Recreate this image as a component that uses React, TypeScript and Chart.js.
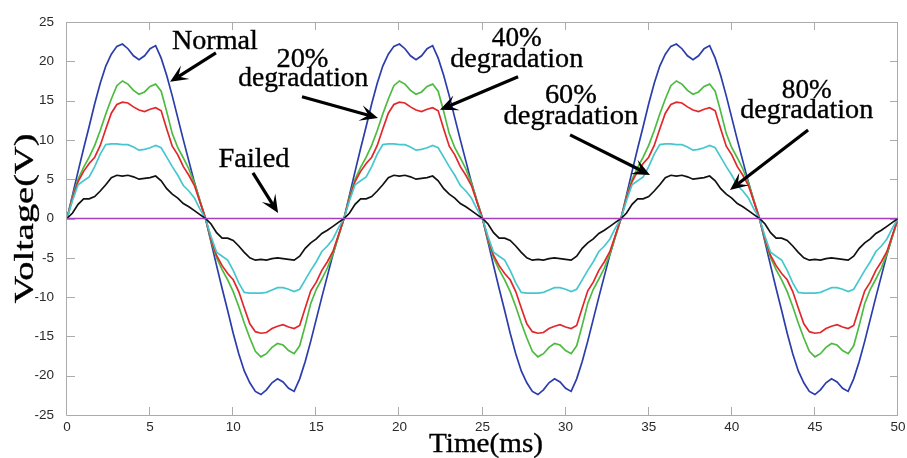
import React, { useEffect, useRef } from "react";
import { Chart, registerables } from "chart.js";

Chart.register(...registerables);

// ---- sampling grid (ms) : one sample every 1/3 ms, 0 … 50 ms ----
const SAMPLE_TIMES_MS: number[] = Array.from({ length: 151 }, (_, i) => i / 3);

const X_TICKS = [0, 5, 10, 15, 20, 25, 30, 35, 40, 45, 50];
const Y_TICKS = [-25, -20, -15, -10, -5, 0, 5, 10, 15, 20, 25];

// ---- series values (V) ----
const NORMAL_V = [
  0, 3.0, 6.0, 8.9, 11.7, 14.6, 17.2, 19.4, 20.9, 21.9, 22.2, 21.6, 20.7, 20.2, 20.7, 21.6, 22.0, 20.4, 18.2, 15.6, 12.8, 10.0, 7.3, 4.6, 2.2,
  0, -3.0, -6.0, -8.9, -11.7, -14.6, -17.2, -19.4, -20.9, -22.0, -22.4, -21.8, -20.9, -20.4, -20.8, -21.6, -22.0, -20.4, -18.2, -15.6, -12.8, -10.0, -7.3, -4.6, -2.2,
  0, 3.0, 6.0, 8.9, 11.7, 14.6, 17.2, 19.4, 20.9, 21.9, 22.2, 21.6, 20.7, 20.2, 20.7, 21.6, 22.0, 20.4, 18.2, 15.6, 12.8, 10.0, 7.3, 4.6, 2.2,
  0, -3.0, -6.0, -8.9, -11.7, -14.6, -17.2, -19.4, -20.9, -22.0, -22.4, -21.8, -20.9, -20.4, -20.8, -21.6, -22.0, -20.4, -18.2, -15.6, -12.8, -10.0, -7.3, -4.6, -2.2,
  0, 3.0, 6.0, 8.9, 11.7, 14.6, 17.2, 19.4, 20.9, 21.9, 22.2, 21.6, 20.7, 20.2, 20.7, 21.6, 22.0, 20.4, 18.2, 15.6, 12.8, 10.0, 7.3, 4.6, 2.2,
  0, -3.0, -6.0, -8.9, -11.7, -14.6, -17.2, -19.4, -20.9, -22.0, -22.4, -21.8, -20.9, -20.4, -20.8, -21.6, -22.0, -20.4, -18.2, -15.6, -12.8, -10.0, -7.3, -4.6, -2.2,
  0,
];

const DEG20_V = [
  0, 2.8, 5.0, 6.5, 7.8, 9.3, 11.2, 13.3, 15.2, 16.9, 17.5, 17.1, 16.3, 15.8, 16.1, 16.8, 17.1, 16.2, 13.6, 10.8, 9.0, 7.7, 6.3, 4.5, 2.3,
  0, -2.8, -5.0, -6.5, -7.8, -9.3, -11.2, -13.3, -15.2, -16.9, -17.6, -17.2, -16.4, -15.9, -16.1, -16.8, -17.2, -16.2, -13.6, -10.8, -9.0, -7.7, -6.3, -4.5, -2.3,
  0, 2.8, 5.0, 6.5, 7.8, 9.3, 11.2, 13.3, 15.2, 16.9, 17.5, 17.1, 16.3, 15.8, 16.1, 16.8, 17.1, 16.2, 13.6, 10.8, 9.0, 7.7, 6.3, 4.5, 2.3,
  0, -2.8, -5.0, -6.5, -7.8, -9.3, -11.2, -13.3, -15.2, -16.9, -17.6, -17.2, -16.4, -15.9, -16.1, -16.8, -17.2, -16.2, -13.6, -10.8, -9.0, -7.7, -6.3, -4.5, -2.3,
  0, 2.8, 5.0, 6.5, 7.8, 9.3, 11.2, 13.3, 15.2, 16.9, 17.5, 17.1, 16.3, 15.8, 16.1, 16.8, 17.1, 16.2, 13.6, 10.8, 9.0, 7.7, 6.3, 4.5, 2.3,
  0, -2.8, -5.0, -6.5, -7.8, -9.3, -11.2, -13.3, -15.2, -16.9, -17.6, -17.2, -16.4, -15.9, -16.1, -16.8, -17.2, -16.2, -13.6, -10.8, -9.0, -7.7, -6.3, -4.5, -2.3,
  0,
];

const DEG40_V = [
  0, 2.6, 4.7, 6.0, 7.0, 7.8, 9.3, 11.4, 13.4, 14.5, 14.8, 14.7, 14.2, 13.8, 13.6, 13.9, 14.1, 13.7, 11.4, 9.2, 8.1, 6.6, 5.5, 4.2, 2.1,
  0, -2.6, -4.7, -6.0, -7.0, -7.8, -9.3, -11.4, -13.4, -14.4, -14.6, -14.5, -14.0, -13.7, -13.5, -13.8, -14.0, -13.6, -11.4, -9.2, -8.1, -6.6, -5.5, -4.2, -2.1,
  0, 2.6, 4.7, 6.0, 7.0, 7.8, 9.3, 11.4, 13.4, 14.5, 14.8, 14.7, 14.2, 13.8, 13.6, 13.9, 14.1, 13.7, 11.4, 9.2, 8.1, 6.6, 5.5, 4.2, 2.1,
  0, -2.6, -4.7, -6.0, -7.0, -7.8, -9.3, -11.4, -13.4, -14.4, -14.6, -14.5, -14.0, -13.7, -13.5, -13.8, -14.0, -13.6, -11.4, -9.2, -8.1, -6.6, -5.5, -4.2, -2.1,
  0, 2.6, 4.7, 6.0, 7.0, 7.8, 9.3, 11.4, 13.4, 14.5, 14.8, 14.7, 14.2, 13.8, 13.6, 13.9, 14.1, 13.7, 11.4, 9.2, 8.1, 6.6, 5.5, 4.2, 2.1,
  0, -2.6, -4.7, -6.0, -7.0, -7.8, -9.3, -11.4, -13.4, -14.4, -14.6, -14.5, -14.0, -13.7, -13.5, -13.8, -14.0, -13.6, -11.4, -9.2, -8.1, -6.6, -5.5, -4.2, -2.1,
  0,
];

const DEG60_V = [
  0, 2.3, 4.3, 4.8, 5.3, 6.6, 8.2, 9.4, 9.5, 9.5, 9.4, 9.4, 9.1, 8.7, 8.8, 9.0, 9.3, 9.0, 7.8, 6.6, 5.5, 4.2, 3.5, 2.6, 1.2,
  0, -2.3, -4.3, -4.8, -5.3, -6.6, -8.2, -9.4, -9.5, -9.5, -9.5, -9.4, -9.1, -8.8, -8.8, -9.0, -9.3, -9.0, -7.8, -6.6, -5.5, -4.2, -3.5, -2.6, -1.2,
  0, 2.3, 4.3, 4.8, 5.3, 6.6, 8.2, 9.4, 9.5, 9.5, 9.4, 9.4, 9.1, 8.7, 8.8, 9.0, 9.3, 9.0, 7.8, 6.6, 5.5, 4.2, 3.5, 2.6, 1.2,
  0, -2.3, -4.3, -4.8, -5.3, -6.6, -8.2, -9.4, -9.5, -9.5, -9.5, -9.4, -9.1, -8.8, -8.8, -9.0, -9.3, -9.0, -7.8, -6.6, -5.5, -4.2, -3.5, -2.6, -1.2,
  0, 2.3, 4.3, 4.8, 5.3, 6.6, 8.2, 9.4, 9.5, 9.5, 9.4, 9.4, 9.1, 8.7, 8.8, 9.0, 9.3, 9.0, 7.8, 6.6, 5.5, 4.2, 3.5, 2.6, 1.2,
  0, -2.3, -4.3, -4.8, -5.3, -6.6, -8.2, -9.4, -9.5, -9.5, -9.5, -9.4, -9.1, -8.8, -8.8, -9.0, -9.3, -9.0, -7.8, -6.6, -5.5, -4.2, -3.5, -2.6, -1.2,
  0,
];

const DEG80_V = [
  0, 0.7, 1.8, 2.5, 2.5, 2.8, 3.5, 4.3, 5.2, 5.5, 5.4, 5.5, 5.3, 5.0, 5.1, 5.2, 5.4, 4.8, 3.8, 3.1, 2.6, 1.9, 1.5, 1.0, 0.5,
  0, -0.7, -1.8, -2.5, -2.5, -2.8, -3.5, -4.3, -5.0, -5.3, -5.2, -5.3, -5.1, -5.0, -5.1, -5.2, -5.3, -4.8, -3.8, -3.1, -2.6, -1.9, -1.5, -1.0, -0.5,
  0, 0.7, 1.8, 2.5, 2.5, 2.8, 3.5, 4.3, 5.2, 5.5, 5.4, 5.5, 5.3, 5.0, 5.1, 5.2, 5.4, 4.8, 3.8, 3.1, 2.6, 1.9, 1.5, 1.0, 0.5,
  0, -0.7, -1.8, -2.5, -2.5, -2.8, -3.5, -4.3, -5.0, -5.3, -5.2, -5.3, -5.1, -5.0, -5.1, -5.2, -5.3, -4.8, -3.8, -3.1, -2.6, -1.9, -1.5, -1.0, -0.5,
  0, 0.7, 1.8, 2.5, 2.5, 2.8, 3.5, 4.3, 5.2, 5.5, 5.4, 5.5, 5.3, 5.0, 5.1, 5.2, 5.4, 4.8, 3.8, 3.1, 2.6, 1.9, 1.5, 1.0, 0.5,
  0, -0.7, -1.8, -2.5, -2.5, -2.8, -3.5, -4.3, -5.0, -5.3, -5.2, -5.3, -5.1, -5.0, -5.1, -5.2, -5.3, -4.8, -3.8, -3.1, -2.6, -1.9, -1.5, -1.0, -0.5,
  0,
];

// Failed: flat at 0 V over the whole record
const FAILED_TIMES_MS = [0, 50];
const FAILED_V = [0, 0];

// ---- styling ----
const COLORS = {
  normal: "#2b3dab",
  deg20: "#4cbb40",
  deg40: "#e2272b",
  deg60: "#46c7cf",
  deg80: "#111111",
  failed: "#a63fbf",
};
const AXIS_COLOR = "#ababab";
const TICK_LABEL_COLOR = "#2a2a2a";
const SERIF = '"Liberation Serif", "Times New Roman", serif';
const SANS = '"Liberation Sans", Arial, sans-serif';

// ---- annotations (positions in data units: ms, V) ----
type TextLine = { text: string; t: number; v: number; width: number };
type Arrow = { t0: number; v0: number; t1: number; v1: number };
const ANNOTATION_TEXT: TextLine[] = [
  { text: "Normal", t: 8.9, v: 21.6, width: 86 },
  { text: "20%", t: 14.17, v: 19.3, width: 52 },
  { text: "degradation", t: 14.22, v: 16.8, width: 130 },
  { text: "40%", t: 27.06, v: 21.9, width: 50 },
  { text: "degradation", t: 27.06, v: 19.3, width: 133 },
  { text: "60%", t: 30.32, v: 14.7, width: 52 },
  { text: "degradation", t: 30.32, v: 12.0, width: 135 },
  { text: "80%", t: 44.51, v: 15.35, width: 50 },
  { text: "degradation", t: 44.51, v: 12.8, width: 133 },
  { text: "Failed", t: 11.25, v: 6.56, width: 71 },
];
const ANNOTATION_ARROWS: Arrow[] = [
  { t0: 8.96, v0: 21.08, t1: 6.2, v1: 17.39 },
  { t0: 14.14, v0: 15.48, t1: 18.71, v1: 12.8 },
  { t0: 27.14, v0: 18.03, t1: 22.44, v1: 13.82 },
  { t0: 30.27, v0: 10.64, t1: 35.08, v1: 5.54 },
  { t0: 44.59, v0: 11.27, t1: 39.89, v1: 3.63 },
  { t0: 11.19, v0: 5.8, t1: 12.7, v1: 0.7 },
];

function fittedText(
  ctx: CanvasRenderingContext2D,
  text: string,
  cx: number,
  baseline: number,
  width: number,
  size: number,
  rotate = false
) {
  ctx.save();
  ctx.font = `${size}px ${SERIF}`;
  const w = ctx.measureText(text).width || 1;
  ctx.translate(cx, baseline);
  if (rotate) ctx.rotate(-Math.PI / 2);
  ctx.scale(width / w, 1);
  ctx.textAlign = "center";
  ctx.textBaseline = "alphabetic";
  ctx.fillStyle = "#000";
  ctx.strokeStyle = "#000";
  ctx.lineWidth = 0.35;
  ctx.fillText(text, 0, 0);
  ctx.strokeText(text, 0, 0);
  ctx.restore();
}

function drawArrow(ctx: CanvasRenderingContext2D, x0: number, y0: number, x1: number, y1: number) {
  const dx = x1 - x0;
  const dy = y1 - y0;
  const len = Math.hypot(dx, dy) || 1;
  const ux = dx / len;
  const uy = dy / len;
  const px = -uy;
  const py = ux;
  const L = 18;
  const W = 8;
  const N = 0.55;
  ctx.save();
  ctx.strokeStyle = "#000";
  ctx.fillStyle = "#000";
  ctx.lineWidth = 3.2;
  ctx.lineCap = "butt";
  ctx.beginPath();
  ctx.moveTo(x0, y0);
  ctx.lineTo(x1 - ux * L * N, y1 - uy * L * N);
  ctx.stroke();
  ctx.beginPath();
  ctx.moveTo(x1, y1);
  ctx.lineTo(x1 - ux * L + px * W, y1 - uy * L + py * W);
  ctx.lineTo(x1 - ux * L * N, y1 - uy * L * N);
  ctx.lineTo(x1 - ux * L - px * W, y1 - uy * L - py * W);
  ctx.closePath();
  ctx.fill();
  ctx.restore();
}

const decorPlugin = {
  id: "decor",
  beforeDatasetsDraw(chart: any) {
    const { ctx, chartArea: a, scales } = chart;
    const xs = scales.x;
    const ys = scales.y;
    ctx.save();
    ctx.strokeStyle = AXIS_COLOR;
    ctx.lineWidth = 1;
    ctx.beginPath();
    ctx.rect(a.left - 0.5, a.top + 0.5, a.right - a.left, a.bottom - a.top);
    ctx.stroke();
    const TL = 8;
    ctx.beginPath();
    for (const v of X_TICKS) {
      const px = Math.round(xs.getPixelForValue(v)) - 0.5;
      ctx.moveTo(px, a.bottom);
      ctx.lineTo(px, a.bottom - TL);
      ctx.moveTo(px, a.top);
      ctx.lineTo(px, a.top + TL);
    }
    for (const v of Y_TICKS) {
      const py = Math.round(ys.getPixelForValue(v)) + 0.5;
      ctx.moveTo(a.left, py);
      ctx.lineTo(a.left + TL, py);
      ctx.moveTo(a.right, py);
      ctx.lineTo(a.right - TL, py);
    }
    ctx.stroke();
    ctx.restore();
  },
  afterDraw(chart: any) {
    const { ctx, chartArea: a, scales } = chart;
    const xs = scales.x;
    const ys = scales.y;
    ctx.save();
    // tick labels
    ctx.fillStyle = TICK_LABEL_COLOR;
    ctx.font = `13.5px ${SANS}`;
    ctx.textAlign = "right";
    ctx.textBaseline = "middle";
    for (const v of Y_TICKS) {
      ctx.fillText(String(v), 54, ys.getPixelForValue(v));
    }
    ctx.textAlign = "center";
    for (const v of X_TICKS) {
      ctx.fillText(String(v), xs.getPixelForValue(v), a.bottom + 12);
    }
    ctx.restore();
    // axis titles
    fittedText(ctx, "Time(ms)", 486, 452, 114, 27);
    fittedText(ctx, "Voltage(V)", 33, (a.top + a.bottom) / 2, 170, 27, true);
    // annotations
    for (const l of ANNOTATION_TEXT) {
      fittedText(ctx, l.text, xs.getPixelForValue(l.t), ys.getPixelForValue(l.v), l.width, 27);
    }
    for (const ar of ANNOTATION_ARROWS) {
      drawArrow(
        ctx,
        xs.getPixelForValue(ar.t0),
        ys.getPixelForValue(ar.v0),
        xs.getPixelForValue(ar.t1),
        ys.getPixelForValue(ar.v1)
      );
    }
  },
};

function pts(times: number[], values: number[]) {
  return values.map((v, i) => ({ x: times[i], y: v }));
}

export default function App() {
  const ref = useRef<HTMLCanvasElement | null>(null);
  useEffect(() => {
    if (!ref.current) return;
    const line = (label: string, data: any[], color: string) => ({
      label,
      data,
      borderColor: color,
      backgroundColor: color,
      borderWidth: 1.7,
      pointRadius: 0,
      tension: 0,
      fill: false,
    });
    const chart = new Chart(ref.current, {
      type: "line",
      data: {
        datasets: [
          line("Failed", pts(FAILED_TIMES_MS, FAILED_V), COLORS.failed),
          line("80% degradation", pts(SAMPLE_TIMES_MS, DEG80_V), COLORS.deg80),
          line("60% degradation", pts(SAMPLE_TIMES_MS, DEG60_V), COLORS.deg60),
          line("40% degradation", pts(SAMPLE_TIMES_MS, DEG40_V), COLORS.deg40),
          line("20% degradation", pts(SAMPLE_TIMES_MS, DEG20_V), COLORS.deg20),
          line("Normal", pts(SAMPLE_TIMES_MS, NORMAL_V), COLORS.normal),
        ],
      },
      options: {
        animation: false,
        responsive: false,
        events: [],
        layout: { padding: { left: 0, top: 22, right: 9, bottom: 0 } },
        plugins: { legend: { display: false }, tooltip: { enabled: false } },
        scales: {
          x: {
            type: "linear",
            min: 0,
            max: 50,
            grid: { display: false },
            border: { display: false },
            ticks: { display: false },
            afterFit: (s: any) => {
              s.height = 43;
            },
          },
          y: {
            type: "linear",
            min: -25,
            max: 25,
            grid: { display: false },
            border: { display: false },
            ticks: { display: false },
            afterFit: (s: any) => {
              s.width = 67;
            },
          },
        },
      },
      plugins: [decorPlugin],
    });
    return () => chart.destroy();
  }, []);
  return (
    <div style={{ position: "fixed", left: 0, top: 0, width: 907, height: 458, background: "#fff" }}>
      <canvas ref={ref} width={907} height={458} style={{ width: 907, height: 458, display: "block" }} />
    </div>
  );
}
